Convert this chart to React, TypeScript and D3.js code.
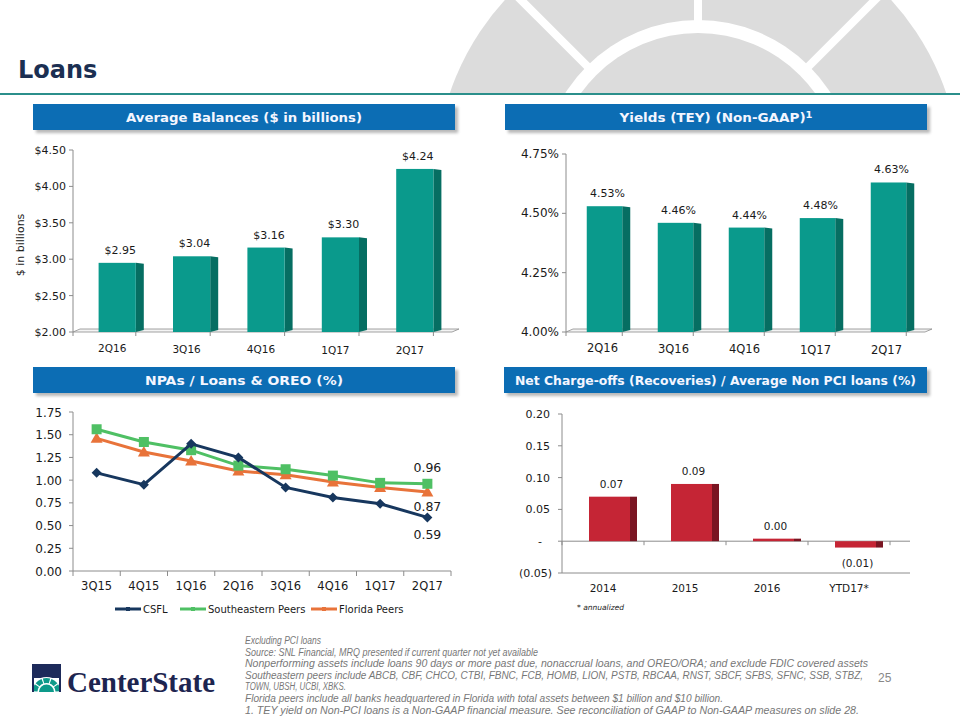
import React from "react";
import * as d3 from "d3";

// ---------- DATA ----------
const balCats = ["2Q16", "3Q16", "4Q16", "1Q17", "2Q17"];
const balValues = [2.95, 3.04, 3.16, 3.3, 4.24];
const balTicks = [2.0, 2.5, 3.0, 3.5, 4.0, 4.5];

const yldCats = ["2Q16", "3Q16", "4Q16", "1Q17", "2Q17"];
const yldValues = [4.53, 4.46, 4.44, 4.48, 4.63];
const yldTicks = [4.0, 4.25, 4.5, 4.75];

const npaCats = ["3Q15", "4Q15", "1Q16", "2Q16", "3Q16", "4Q16", "1Q17", "2Q17"];
const csfl = [1.08, 0.95, 1.4, 1.25, 0.92, 0.81, 0.74, 0.59];
const sePeers = [1.56, 1.42, 1.33, 1.16, 1.12, 1.05, 0.97, 0.96];
const flPeers = [1.46, 1.31, 1.21, 1.1, 1.06, 0.98, 0.92, 0.87];
const npaTicks = [0, 0.25, 0.5, 0.75, 1.0, 1.25, 1.5, 1.75];

const ncoCats = ["2014", "2015", "2016", "YTD17*"];
const ncoValues = [0.07, 0.09, 0.004, -0.01];
const ncoLabels = ["0.07", "0.09", "0.00", "(0.01)"];
const ncoTicks = [-0.05, 0, 0.05, 0.1, 0.15, 0.2];

const footnotes = [
  "Excluding PCI loans",
  "Source: SNL Financial, MRQ presented if current quarter not yet available",
  "Nonperforming assets include  loans 90 days or more past due, nonaccrual loans, and OREO/ORA; and exclude FDIC covered assets",
  "Southeastern peers include ABCB, CBF, CHCO, CTBI, FBNC, FCB, HOMB, LION, PSTB, RBCAA, RNST, SBCF, SFBS, SFNC, SSB, STBZ,",
  "TOWN, UBSH, UCBI, XBKS.",
  "Florida peers include all banks headquartered in Florida with total assets between $1 billion and $10 billion.",
  "1.  TEY yield on Non-PCI loans is a Non-GAAP financial measure.  See reconciliation of GAAP to Non-GAAP measures on slide 28.",
];
const footWidths = [76, 293, 623, 618, 101, 478, 614];

// ---------- STYLE ----------
const FONT = "'DejaVu Sans', Verdana, sans-serif";
const TEAL = "#0a9a8c";
const TEAL_SIDE = "#066e62";
const RED = "#c52535";
const RED_SIDE = "#7a1522";
const NAVY = "#17375e";
const GREEN = "#4fc064";
const ORANGE = "#e8733a";
const HEADER = "#0c6db4";
const AXIS = "#8c8c8c";
const TXT = "#1a1a1a";

function Header({ x, y, w, h, text, sup, tl }: { x: number; y: number; w: number; h: number; text: string; sup?: string; tl: number }) {
  return (
    <g>
      <rect x={x + 3} y={y + 3} width={w} height={h} fill="#b8b8b8" filter="url(#blur)" />
      <rect x={x} y={y} width={w} height={h} fill={HEADER} />
      <text
        x={x + w / 2}
        y={y + h / 2 + 4.5}
        textAnchor="middle"
        fill="#f4f6ff"
        fontFamily={FONT}
        fontWeight="bold"
        fontSize={13}
        textLength={tl}
        lengthAdjust="spacingAndGlyphs"
      >
        {text}
        {sup ? (
          <tspan fontSize={9.5} dy={-4}>
            {sup}
          </tspan>
        ) : null}
      </text>
    </g>
  );
}

function BarChart3D({
  cats, values, labels, yDomain, yRange, ticks, tickFmt, axisX, bandRange, axisEnd,
  tickFont, catFont, valFont, catY, catDx,
}: any) {
  const y = d3.scaleLinear().domain(yDomain).range(yRange);
  const x = d3.scaleBand<string>().domain(cats).range(bandRange).paddingInner(0.5).paddingOuter(0.25);
  const base = y(yDomain[0]);
  const side = 8;
  const bounds = d3.range(cats.length + 1).map((i) => bandRange[0] - x.step() * 0.25 + i * x.step() * 1.0);
  return (
    <g>
      <line x1={axisX} x2={axisX} y1={y(yDomain[1])} y2={base} stroke={AXIS} />
      {ticks.map((t: number) => (
        <g key={t}>
          <line x1={axisX - 4} x2={axisX} y1={y(t)} y2={y(t)} stroke={AXIS} />
          <text x={axisX - 7} y={y(t) + 4} textAnchor="end" fontFamily={FONT} fontSize={tickFont} fill={TXT}>
            {tickFmt(t)}
          </text>
        </g>
      ))}
      <polygon
        points={`${axisX},${base} ${axisX + 7},${base - 3} ${axisEnd + 7},${base - 3} ${axisEnd},${base}`}
        fill="#f4f4f4"
        stroke={AXIS}
        strokeWidth={0.8}
      />
      {bounds.map((b: number, i: number) => {
        const bx = Math.max(axisX, Math.min(axisEnd, b));
        return <line key={i} x1={bx} x2={bx} y1={base} y2={base + 4} stroke={AXIS} />;
      })}
      {cats.map((c: string, i: number) => {
        const bx = x(c)!;
        const bw = x.bandwidth();
        const top = y(values[i]);
        return (
          <g key={c}>
            <polygon
              points={`${bx + bw},${top} ${bx + bw + side},${top + 1} ${bx + bw + side},${base - 2} ${bx + bw},${base}`}
              fill={TEAL_SIDE}
            />
            <rect x={bx} y={top} width={bw} height={base - top} fill={TEAL} />
            <text x={bx + bw / 2 + 3} y={top - 9} textAnchor="middle" fontFamily={FONT} fontSize={valFont} fill={TXT}>
              {labels[i]}
            </text>
            <text x={bx + bw / 2 + catDx} y={catY + i * 0.6} textAnchor="middle" fontFamily={FONT} fontSize={catFont} fill={TXT}>
              {c}
            </text>
          </g>
        );
      })}
    </g>
  );
}

function NpaChart() {
  const axisX = 73;
  const y = d3.scaleLinear().domain([0, 1.75]).range([571, 412]);
  const x = d3.scaleBand<string>().domain(npaCats).range([73, 451]);
  const cx = (c: string) => x(c)! + x.bandwidth() / 2;
  const line = d3
    .line<number>()
    .x((_, i) => cx(npaCats[i]))
    .y((d) => y(d));
  const series = [
    { name: "Florida Peers", data: flPeers, color: ORANGE, marker: "tri" },
    { name: "Southeastern Peers", data: sePeers, color: GREEN, marker: "sq" },
    { name: "CSFL", data: csfl, color: NAVY, marker: "dia" },
  ];
  const marker = (m: string, px: number, py: number, color: string, key: number) => {
    if (m === "sq") return <rect key={key} x={px - 5} y={py - 5} width={10} height={10} fill={color} />;
    if (m === "tri")
      return <polygon key={key} points={`${px},${py - 6} ${px + 6},${py + 4.5} ${px - 6},${py + 4.5}`} fill={color} />;
    return <polygon key={key} points={`${px},${py - 5} ${px + 5},${py} ${px},${py + 5} ${px - 5},${py}`} fill={color} />;
  };
  const last = cx("2Q17");
  return (
    <g>
      <line x1={axisX} x2={axisX} y1={412} y2={571} stroke={AXIS} />
      {npaTicks.map((t) => (
        <g key={t}>
          <line x1={axisX - 4} x2={axisX} y1={y(t)} y2={y(t)} stroke={AXIS} />
          <text x={axisX - 11} y={y(t) + 4.5} textAnchor="end" fontFamily={FONT} fontSize={12} fill={TXT}>
            {d3.format(".2f")(t)}
          </text>
        </g>
      ))}
      <line x1={73} x2={451} y1={571} y2={571} stroke={AXIS} />
      {d3.range(npaCats.length + 1).map((i) => (
        <line key={i} x1={73 + i * x.step()} x2={73 + i * x.step()} y1={571} y2={576} stroke={AXIS} />
      ))}
      {npaCats.map((c) => (
        <text key={c} x={cx(c)} y={590} textAnchor="middle" fontFamily={FONT} fontSize={11.5} fill={TXT}>
          {c}
        </text>
      ))}
      {series.map((s) => (
        <g key={s.name}>
          <path d={line(s.data)!} fill="none" stroke={s.color} strokeWidth={3} />
          {s.data.map((d, i) => marker(s.marker, cx(npaCats[i]), y(d), s.color, i))}
        </g>
      ))}
      <text x={last} y={y(0.96) - 12} textAnchor="middle" fontFamily={FONT} fontSize={12.5} fill={TXT}>0.96</text>
      <text x={last} y={y(0.87) + 19} textAnchor="middle" fontFamily={FONT} fontSize={12.5} fill={TXT}>0.87</text>
      <text x={last} y={y(0.59) + 22} textAnchor="middle" fontFamily={FONT} fontSize={12.5} fill={TXT}>0.59</text>
      {[
        { name: "CSFL", color: NAVY, x1: 115 },
        { name: "Southeastern Peers", color: GREEN, x1: 180 },
        { name: "Florida Peers", color: ORANGE, x1: 311 },
      ].map((l) => (
        <g key={l.name}>
          <line x1={l.x1} x2={l.x1 + 26} y1={609} y2={609} stroke={l.color} strokeWidth={3} />
          <rect x={l.x1 + 11} y={607} width={4} height={4} fill={l.color} />
          <text x={l.x1 + 28} y={612.5} fontFamily={FONT} fontSize={10} fill={TXT}>
            {l.name}
          </text>
        </g>
      ))}
    </g>
  );
}

function NcoChart() {
  const axisX = 562;
  const y = d3.scaleLinear().domain([-0.05, 0.2]).range([573, 414]);
  const x = d3.scaleBand<string>().domain(ncoCats).range([562, 890]);
  const zero = y(0);
  const fmt = (t: number) => (Math.abs(t) < 1e-9 ? "-" : t < 0 ? `(${d3.format(".2f")(-t)})` : d3.format(".2f")(t));
  return (
    <g>
      <line x1={axisX} x2={axisX} y1={414} y2={573} stroke={AXIS} />
      <line x1={axisX} x2={910} y1={573} y2={573} stroke={AXIS} />
      {ncoTicks.map((t) => (
        <g key={t}>
          <line x1={axisX - 4} x2={axisX} y1={y(t)} y2={y(t)} stroke={AXIS} />
          <text
            x={Math.abs(t) < 1e-9 ? 542 : t < 0 ? 552 : 550}
            y={y(t) + 4}
            textAnchor="end"
            fontFamily={FONT}
            fontSize={11}
            fill={TXT}
          >
            {fmt(t)}
          </text>
        </g>
      ))}
      <line x1={axisX} x2={910} y1={zero} y2={zero} stroke={AXIS} />
      {d3.range(ncoCats.length + 1).map((i) => (
        <line key={i} x1={562 + i * x.step()} x2={562 + i * x.step()} y1={zero} y2={zero + 4} stroke={AXIS} />
      ))}
      {ncoCats.map((c, i) => {
        const center = x(c)! + x.bandwidth() / 2;
        const fx = center - 14;
        const fw = 41;
        const v = ncoValues[i];
        const top = Math.min(y(v), zero);
        const h = Math.abs(y(v) - zero);
        return (
          <g key={c}>
            <rect x={fx} y={top} width={fw} height={h} fill={RED} />
            <rect x={fx + fw} y={top} width={7} height={h} fill={RED_SIDE} />
            <text
              x={fx + fw / 2 + 2}
              y={v >= 0 ? top - 9 : top + h + 19}
              textAnchor="middle"
              fontFamily={FONT}
              fontSize={10.5}
              fill={TXT}
            >
              {ncoLabels[i]}
            </text>
            <text x={center} y={592} textAnchor="middle" fontFamily={FONT} fontSize={10.5} fill={TXT}>
              {c}
            </text>
          </g>
        );
      })}
      <text x={577} y={610} fontFamily={FONT} fontSize={7.5} fontStyle="italic" fill={TXT}>
        * annualized
      </text>
    </g>
  );
}

function BackgroundArt() {
  const cx = 698;
  const cy = 177;
  const spokeAngles = [-135, -90, -45];
  return (
    <g clipPath="url(#topclip)">
      <circle cx={cx} cy={cy} r={262} fill="#dcdcdc" />
      <circle cx={cx} cy={cy} r={157} fill="#ffffff" />
      <circle cx={cx} cy={cy} r={144} fill="#dcdcdc" />
      {spokeAngles.map((a) => {
        const r = (a * Math.PI) / 180;
        return (
          <line
            key={a}
            x1={cx + Math.cos(r) * 150}
            y1={cy + Math.sin(r) * 150}
            x2={cx + Math.cos(r) * 300}
            y2={cy + Math.sin(r) * 300}
            stroke="#ffffff"
            strokeWidth={8}
          />
        );
      })}
    </g>
  );
}

function Logo() {
  const cx = 46.5;
  const cy = 692;
  const arc = d3.arc();
  const segs = d3.range(5).map((i) => {
    const a0 = -Math.PI / 2 + (i * Math.PI) / 5;
    const a1 = a0 + Math.PI / 5;
    return arc({ innerRadius: 9, outerRadius: 14, startAngle: a0 + 0.05, endAngle: a1 - 0.05 })!;
  });
  return (
    <g>
      <rect x={32} y={664} width={29} height={28} fill="#1d2a5a" />
      <rect x={32} y={678} width={29} height={14} fill="#ffffff" />
      <path d={arc({ innerRadius: 0, outerRadius: 15, startAngle: -Math.PI / 2, endAngle: Math.PI / 2 })!} transform={`translate(${cx},${cy})`} fill="#ffffff" />
      {segs.map((d, i) => (
        <path key={i} d={d} transform={`translate(${cx},${cy})`} fill="#0d9a8a" />
      ))}
      <path d={arc({ innerRadius: 0, outerRadius: 7.5, startAngle: -Math.PI / 2, endAngle: Math.PI / 2 })!} transform={`translate(${cx},${cy})`} fill="#0d9a8a" />
      <rect x={32} y={678} width={2} height={14} fill="#1d2a5a" />
      <rect x={59} y={678} width={2} height={14} fill="#1d2a5a" />
      <text x={67} y={692} fontFamily="'Liberation Serif', 'DejaVu Serif', serif" fontWeight="bold" fontSize={30} fill="#1d2550" textLength={148} lengthAdjust="spacingAndGlyphs">
        CenterState
      </text>
    </g>
  );
}

export default function App() {
  return (
    <svg width={960} height={720} viewBox="0 0 960 720" style={{ position: "absolute", left: 0, top: 0, background: "#fff" }}>
      <defs>
        <clipPath id="topclip">
          <rect x={0} y={0} width={960} height={93} />
        </clipPath>
        <filter id="blur" x="-5%" y="-30%" width="110%" height="160%">
          <feGaussianBlur stdDeviation={1.5} />
        </filter>
      </defs>
      <rect x={0} y={0} width={960} height={720} fill="#ffffff" />
      <BackgroundArt />
      <line x1={0} x2={960} y1={94} y2={94} stroke="#2b8f8b" strokeWidth={2} />
      <text x={18} y={78} fontFamily={FONT} fontWeight="bold" fontSize={24} fill="#1b2f52">
        Loans
      </text>

      <Header x={33} y={104} w={422} h={26} text="Average Balances ($ in billions)" tl={236} />
      <Header x={505} y={104} w={422} h={26} text="Yields (TEY) (Non-GAAP)" sup="1" tl={193} />
      <Header x={33} y={367} w={422} h={26} text="NPAs / Loans & OREO (%)" tl={198} />
      <Header x={504} y={367} w={423} h={26} text="Net Charge-offs (Recoveries) / Average Non PCI loans (%)" tl={401} />

      <BarChart3D
        cats={balCats}
        values={balValues}
        labels={balValues.map((v) => "$" + d3.format(".2f")(v))}
        yDomain={[2.0, 4.5]}
        yRange={[332, 150]}
        ticks={balTicks}
        tickFmt={(t: number) => "$" + d3.format(".2f")(t)}
        axisX={73}
        bandRange={[80, 452]}
        axisEnd={452}
        tickFont={11}
        catFont={10.5}
        valFont={11}
        catY={352}
        catDx={-5}
      />
      <text transform="translate(24,245) rotate(-90)" textAnchor="middle" fontFamily={FONT} fontSize={11} fill={TXT}>
        $ in billions
      </text>

      <BarChart3D
        cats={yldCats}
        values={yldValues}
        labels={yldValues.map((v) => d3.format(".2f")(v) + "%")}
        yDomain={[4.0, 4.75]}
        yRange={[332, 154]}
        ticks={yldTicks}
        tickFmt={(t: number) => d3.format(".2f")(t) + "%"}
        axisX={566}
        bandRange={[569, 924]}
        axisEnd={925}
        tickFont={12}
        catFont={11.5}
        valFont={11}
        catY={352}
        catDx={-2}
      />

      <NpaChart />
      <NcoChart />

      <Logo />
      {footnotes.map((f, i) => (
        <text
          key={i}
          x={245}
          y={644 + i * 11.6}
          fontFamily="'Liberation Sans', Arial, sans-serif"
          fontStyle="italic"
          fontSize={10}
          fill="#777777"
          textLength={footWidths[i]}
          lengthAdjust="spacingAndGlyphs"
        >
          {f}
        </text>
      ))}
      <text x={878} y={682} fontFamily="'Liberation Sans', Arial, sans-serif" fontSize={12} fill="#888">
        25
      </text>
    </svg>
  );
}
